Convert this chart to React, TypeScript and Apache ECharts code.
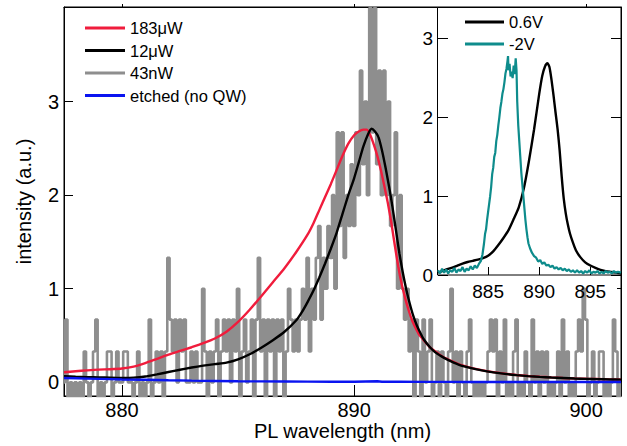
import React, { useEffect, useRef } from 'react';
import * as echarts from 'echarts';

const FONT = "'Liberation Sans', Arial, Helvetica, sans-serif";

// tick labels
const mainXTicks = [880, 890, 900];
const mainYTicks = [0, 1, 2, 3];
const insetXTicks = [885, 890, 895];
const insetYTicks = [0, 1, 2, 3];

// main plot: 183 µW (red)
const pl183uW: [number, number][] = [
  [877.5, 0.107], [878.0, 0.118], [878.5, 0.128], [879.0, 0.136], [879.5, 0.14], [880.0, 0.148],
  [880.5, 0.168], [881.0, 0.205], [881.5, 0.25], [882.0, 0.295], [882.5, 0.335], [883.0, 0.375],
  [883.5, 0.418], [884.0, 0.468], [884.5, 0.54], [885.0, 0.645], [885.5, 0.775], [886.0, 0.92],
  [886.5, 1.07], [887.0, 1.22], [887.5, 1.39], [888.0, 1.58], [888.25, 1.7], [888.5, 1.84],
  [888.75, 1.98], [889.0, 2.12], [889.25, 2.27], [889.5, 2.42], [889.75, 2.55], [890.0, 2.64],
  [890.2, 2.68], [890.4, 2.7], [890.55, 2.7], [890.7, 2.64], [890.85, 2.54], [891.0, 2.42],
  [891.15, 2.27], [891.3, 2.1], [891.45, 1.92], [891.6, 1.71], [891.75, 1.47], [891.9, 1.24],
  [892.05, 1.05], [892.2, 0.9], [892.35, 0.77], [892.5, 0.66], [892.65, 0.58], [892.8, 0.51],
  [893.0, 0.45], [893.25, 0.38], [893.5, 0.33], [893.75, 0.285], [894.0, 0.25], [894.5, 0.195],
  [895.0, 0.158], [895.5, 0.13], [896.0, 0.109], [896.5, 0.092], [897.0, 0.079], [897.5, 0.068],
  [898.0, 0.06], [898.5, 0.053], [899.0, 0.047], [899.5, 0.042], [900.0, 0.038], [900.5, 0.035],
  [901.0, 0.032], [901.5, 0.03],
];

// main plot: 12 µW (black)
const pl12uW: [number, number][] = [
  [877.5, 0.065], [878.0, 0.06], [878.5, 0.056], [879.0, 0.053], [879.5, 0.05], [880.0, 0.048],
  [880.5, 0.05], [881.0, 0.062], [881.5, 0.085], [882.0, 0.11], [882.5, 0.135], [883.0, 0.158],
  [883.5, 0.178], [884.0, 0.195], [884.5, 0.21], [885.0, 0.245], [885.5, 0.3], [886.0, 0.37],
  [886.5, 0.45], [887.0, 0.54], [887.5, 0.66], [887.75, 0.75], [888.0, 0.86], [888.25, 0.98],
  [888.5, 1.12], [888.75, 1.27], [889.0, 1.43], [889.25, 1.6], [889.5, 1.8], [889.75, 2.0],
  [890.0, 2.18], [890.2, 2.35], [890.4, 2.52], [890.6, 2.65], [890.75, 2.71], [890.9, 2.68],
  [891.05, 2.62], [891.2, 2.48], [891.35, 2.3], [891.5, 2.1], [891.65, 1.88], [891.8, 1.63],
  [891.95, 1.38], [892.1, 1.17], [892.25, 0.99], [892.4, 0.84], [892.55, 0.71], [892.7, 0.61],
  [892.85, 0.53], [893.0, 0.46], [893.25, 0.38], [893.5, 0.32], [893.75, 0.28], [894.0, 0.245],
  [894.5, 0.19], [895.0, 0.155], [895.5, 0.128], [896.0, 0.107], [896.5, 0.09], [897.0, 0.077],
  [897.5, 0.066], [898.0, 0.058], [898.5, 0.051], [899.0, 0.046], [899.5, 0.041], [900.0, 0.037],
  [900.5, 0.034], [901.0, 0.031], [901.5, 0.029],
];

// main plot: 43 nW (grey, photon-count limited), sampled every 0.1 nm from 877.5 nm
const pl43nWStart = 877.5;
const pl43nWStep = 0.1;
const pl43nW: number[] = [
  0, 0.67, -0.33, 0, -0.33, 0, -0.33, 0, -0.33, 0.33,
  0, -0.33, 0, 0.33, 0.67, -0.33, 0, -0.33, 0, 0.33,
  0.33, -0.33, 0, 0.33, 0, 0, 0.33, 0.33, 0, 0,
  -0.33, 0, 0.33, -0.33, 0, -0.33, 0, 0.67, -0.33, 0,
  0.33, 0, 0.33, -0.33, 0.33, 1.33, 0.67, 0.33, 0.67, 0,
  0.67, 0.33, 0.67, 0, 0, 0.33, 0, 0.33, 0, 0,
  1, 0.33, -0.33, 0.33, 0, 0.33, 0.67, -0.33, 0.33, 0.67,
  0.33, 0.67, 0, 0.67, 0.33, 1, -0.33, 0.33, 0.67, 0,
  0.33, 0.67, -0.33, 0.67, 1.33, 0.33, 0.67, -0.33, 0.67, 0.33,
  0.67, -0.33, 0.67, 0.33, 0.67, -0.33, 0.33, 1, 0.67, 0.33,
  0.67, 0.33, 0.67, 1, 0.67, 1.33, 0.33, 1, 0.67, 1.33,
  1.67, 0.67, 1.33, 1, 1.67, 1.33, 2, 1, 2.67, 1.67,
  2.67, 1.33, 2, 1.67, 2.33, 1.67, 2.67, 2, 3.33, 2.33,
  3, 2, 4, 2.67, 4, 2.33, 3.33, 2, 3.33, 2,
  3, 1.67, 2, 2.67, 1, 2, 1, 0.67, 1, 0.33,
  0.67, -0.33, 0.67, 0.33, -0.33, 0.67, 0, 0.33, 0.67, -0.33,
  0, 0.33, -0.33, 0.33, 0, -0.33, 0.33, 1, 0, 0.33,
  -0.33, 0.33, 0, -0.33, 0.33, 0.67, 0, -0.33, 0, -0.33,
  0, -0.33, 0, 0.33, 0.67, 0.33, 0.67, -0.33, 0.33, 0,
  0.67, -0.33, 0, -0.33, 0.33, 0.67, -0.33, 0, -0.33, 0.33,
  0, -0.33, 0.67, 0, 0.33, -0.33, 0.33, 0, 0.33, -0.33,
  0, -0.33, 0, 0.33, -0.33, 0.67, 0, 0.33, -0.33, 0,
  -0.33, 0.33, 0.67, 0.33, 1, 0.67, -0.33, 0, 0.33, -0.33,
  0, 0.33, 0.33, -0.33, 0, -0.33, 0, 0.67, 0.33, -0.33,
  0,
];

// main plot: etched (no QW) (blue)
const etchedNoQW: [number, number][] = [
  [877.5, 0.046], [878.0, 0.043], [878.5, 0.04], [879.0, 0.037], [879.5, 0.034], [880.0, 0.031],
  [881.0, 0.027], [882.0, 0.022], [883.0, 0.018], [884.0, 0.015], [885.0, 0.012], [886.0, 0.01],
  [887.0, 0.009], [888.0, 0.008], [889.0, 0.007], [890.0, 0.007], [891.0, 0.011], [891.2, 0.006],
  [892.0, 0.006], [893.0, 0.005], [894.0, 0.005], [895.0, 0.004], [896.0, 0.004], [897.0, 0.004],
  [898.0, 0.003], [899.0, 0.003], [900.0, 0.003], [901.5, 0.003],
];

// inset: 0.6 V (black)
const inset06V: [number, number][] = [
  [880.1, 0.03], [880.5, 0.05], [881.0, 0.075], [881.5, 0.095], [882.0, 0.12], [882.5, 0.145],
  [883.0, 0.165], [883.5, 0.18], [884.0, 0.195], [884.5, 0.215], [885.0, 0.245], [885.5, 0.3],
  [886.0, 0.38], [886.5, 0.47], [887.0, 0.57], [887.5, 0.71], [888.0, 0.86], [888.5, 1.1],
  [889.0, 1.45], [889.5, 1.85], [890.0, 2.3], [890.3, 2.53], [890.6, 2.66], [890.8, 2.69],
  [891.0, 2.64], [891.2, 2.48], [891.4, 2.28], [891.6, 2.06], [891.8, 1.85], [892.0, 1.58],
  [892.2, 1.25], [892.4, 0.97], [892.6, 0.78], [892.8, 0.64], [893.0, 0.53], [893.3, 0.41],
  [893.6, 0.31], [894.0, 0.23], [894.5, 0.16], [895.0, 0.12], [895.5, 0.09], [896.0, 0.065],
  [896.5, 0.05], [897.0, 0.04], [897.5, 0.03], [898.0, 0.02],
];

// inset: -2 V (teal)
const insetM2V: [number, number][] = [
  [880.1, 0.06], [880.3, 0.02], [880.5, 0.08], [880.7, 0.03], [880.9, 0.07], [881.1, 0.02],
  [881.3, 0.06], [881.5, 0.04], [881.7, 0.09], [881.9, 0.03], [882.1, 0.07], [882.3, 0.05],
  [882.5, 0.1], [882.7, 0.04], [882.9, 0.08], [883.1, 0.06], [883.3, 0.11], [883.5, 0.07],
  [883.7, 0.12], [883.9, 0.09], [884.1, 0.14], [884.3, 0.18], [884.45, 0.26], [884.6, 0.4],
  [884.7, 0.52], [884.8, 0.58], [884.9, 0.7], [885.0, 0.8], [885.1, 0.9], [885.2, 1.0],
  [885.3, 1.12], [885.4, 1.28], [885.5, 1.36], [885.6, 1.5], [885.7, 1.55], [885.8, 1.7],
  [885.9, 1.78], [886.0, 1.9], [886.1, 2.0], [886.2, 2.12], [886.3, 2.2], [886.4, 2.3],
  [886.5, 2.36], [886.6, 2.45], [886.7, 2.56], [886.8, 2.62], [886.9, 2.72], [886.95, 2.78],
  [887.0, 2.6], [887.1, 2.68], [887.2, 2.52], [887.3, 2.58], [887.4, 2.5], [887.5, 2.66],
  [887.6, 2.55], [887.7, 2.75], [887.78, 2.6], [887.85, 2.2], [887.95, 1.9], [888.05, 1.7],
  [888.15, 1.5], [888.25, 1.3], [888.35, 1.15], [888.45, 1.0], [888.55, 0.85], [888.65, 0.7],
  [888.75, 0.58], [888.85, 0.48], [888.95, 0.4], [889.1, 0.34], [889.3, 0.28], [889.5, 0.24],
  [889.7, 0.22], [889.9, 0.17], [890.1, 0.19], [890.3, 0.14], [890.5, 0.16], [890.7, 0.12],
  [890.9, 0.13], [891.1, 0.1], [891.3, 0.12], [891.5, 0.08], [891.7, 0.1], [891.9, 0.07],
  [892.1, 0.09], [892.3, 0.06], [892.5, 0.08], [892.7, 0.05], [892.9, 0.07], [893.1, 0.04],
  [893.3, 0.06], [893.5, 0.03], [893.7, 0.06], [893.9, 0.03], [894.1, 0.05], [894.3, 0.02],
  [894.5, 0.05], [894.7, 0.03], [894.9, 0.06], [895.1, 0.02], [895.3, 0.04], [895.5, 0.03],
  [895.7, 0.05], [895.9, 0.02], [896.1, 0.04], [896.3, 0.02], [896.5, 0.05], [896.7, 0.03],
  [896.9, 0.04], [897.1, 0.02], [897.3, 0.05], [897.5, 0.03], [897.7, 0.04], [898.0, 0.03],
];

const RED = '#f01c3c';
const BLACK = '#000000';
const GRAY = '#8e8e8e';
const BLUE = '#0a14f0';
const TEAL = '#0e8c8c';

const txt = (size: number) => ({ fontSize: size, fontFamily: FONT, color: '#000' });

function buildOption() {
  const grayData = pl43nW.map((v, i) => [pl43nWStart + pl43nWStep * i, v]);
  const line = { show: true, onZero: false, lineStyle: { color: '#000', width: 1 } };
  const noSplit = { show: false };
  return {
    animation: false,
    backgroundColor: '#ffffff',
    grid: [
      {
        left: 64, top: 7, right: 6, bottom: 50, show: true, borderColor: '#000', borderWidth: 1,
        backgroundColor: 'transparent', containLabel: false, outerBoundsMode: 'none',
      },
      { left: 438, top: 8, right: 6, bottom: 171, show: false, containLabel: false, outerBoundsMode: 'none' },
    ],
    graphic: {
      elements: [
        {
          type: 'rect',
          z: 3,
          shape: { x: 437.5, y: 7.5, width: 183.5, height: 267.5 },
          style: { fill: '#ffffff', stroke: '#000000', lineWidth: 1 },
        },
      ],
    },
    legend: [
      {
        data: ['183μW', '12μW', '43nW', 'etched (no QW)'],
        orient: 'vertical', left: 85, top: 19.5, padding: 0,
        icon: 'rect', itemWidth: 40, itemHeight: 3, itemGap: 5.5,
        selectedMode: false,
        textStyle: { ...txt(16.5), lineHeight: 16 },
      },
      {
        data: ['0.6V', '-2V'],
        orient: 'vertical', left: 465, top: 13.5, padding: 0, z: 11,
        icon: 'rect', itemWidth: 39, itemHeight: 3, itemGap: 5,
        selectedMode: false,
        textStyle: { ...txt(16.5), lineHeight: 16 },
      },
    ],
    xAxis: [
      {
        gridIndex: 0, type: 'value', min: 877.5, max: 901.5, position: 'bottom',
        axisLine: line, splitLine: noSplit,
        axisTick: { show: true, inside: true, length: 11, customValues: mainXTicks, lineStyle: { color: '#000', width: 1 } },
        axisLabel: { show: true, customValues: mainXTicks, margin: 6, ...txt(20), lineHeight: 16 },
        name: 'PL wavelength (nm)', nameLocation: 'middle', nameGap: 27, nameMoveOverlap: false,
        nameTextStyle: { ...txt(20), lineHeight: 16 },
      },
      {
        gridIndex: 0, type: 'value', min: 877.5, max: 901.5, position: 'top',
        axisLine: line, splitLine: noSplit,
        axisTick: { show: true, inside: false, length: 3, customValues: mainXTicks, lineStyle: { color: '#000', width: 1 } },
        axisLabel: { show: false },
      },
      {
        gridIndex: 1, type: 'value', min: 880.1, max: 898, position: 'bottom', z: 10,
        axisLine: { show: false }, splitLine: noSplit,
        axisTick: { show: true, inside: true, length: 8, customValues: insetXTicks, lineStyle: { color: '#000', width: 1 } },
        axisLabel: { show: true, customValues: insetXTicks, margin: 7, ...txt(19) },
      },
    ],
    yAxis: [
      {
        gridIndex: 0, type: 'value', min: -0.146, max: 4.01, position: 'left',
        axisLine: line, splitLine: noSplit,
        axisTick: { show: true, inside: true, length: 9, customValues: mainYTicks, lineStyle: { color: '#000', width: 1 } },
        axisLabel: { show: true, customValues: mainYTicks, margin: 5, ...txt(20) },
        name: 'intensity (a.u.)', nameLocation: 'middle', nameGap: 30, nameRotate: 90, nameMoveOverlap: false,
        nameTextStyle: txt(20),
      },
      {
        gridIndex: 0, type: 'value', min: -0.146, max: 4.01, position: 'right',
        axisLine: line, splitLine: noSplit,
        axisTick: { show: true, inside: true, length: 4, customValues: mainYTicks, lineStyle: { color: '#000', width: 1 } },
        axisLabel: { show: false },
      },
      {
        gridIndex: 1, type: 'value', min: 0, max: 3.39, position: 'left', z: 10,
        axisLine: { show: false }, splitLine: noSplit,
        axisTick: { show: true, inside: true, length: 10, customValues: insetYTicks, lineStyle: { color: '#000', width: 1 } },
        axisLabel: { show: true, customValues: insetYTicks, margin: 5, ...txt(19) },
      },
      {
        gridIndex: 1, type: 'value', min: 0, max: 3.39, position: 'right', z: 10,
        axisLine: { show: false }, splitLine: noSplit,
        axisTick: { show: true, inside: true, length: 10, customValues: insetYTicks, lineStyle: { color: '#000', width: 1 } },
        axisLabel: { show: false },
      },
    ],
    series: [
      {
        name: '43nW', type: 'line', xAxisIndex: 0, yAxisIndex: 0, data: grayData,
        showSymbol: false, step: 'middle', z: 2,
        lineStyle: { color: GRAY, width: 2.6 }, itemStyle: { color: GRAY },
      },
      {
        name: '183μW', type: 'line', xAxisIndex: 0, yAxisIndex: 0, data: pl183uW,
        showSymbol: false, smooth: 0.2, z: 2,
        lineStyle: { color: RED, width: 2.4 }, itemStyle: { color: RED },
      },
      {
        name: '12μW', type: 'line', xAxisIndex: 0, yAxisIndex: 0, data: pl12uW,
        showSymbol: false, smooth: 0.2, z: 2,
        lineStyle: { color: BLACK, width: 2.4 }, itemStyle: { color: BLACK },
      },
      {
        name: 'etched (no QW)', type: 'line', xAxisIndex: 0, yAxisIndex: 0, data: etchedNoQW,
        showSymbol: false, z: 2,
        lineStyle: { color: BLUE, width: 2.4 }, itemStyle: { color: BLUE },
      },
      {
        name: '0.6V', type: 'line', xAxisIndex: 2, yAxisIndex: 2, data: inset06V,
        showSymbol: false, smooth: 0.2, z: 10,
        lineStyle: { color: BLACK, width: 2.4 }, itemStyle: { color: BLACK },
      },
      {
        name: '-2V', type: 'line', xAxisIndex: 2, yAxisIndex: 2, data: insetM2V,
        showSymbol: false, z: 10,
        lineStyle: { color: TEAL, width: 2.2 }, itemStyle: { color: TEAL },
      },
    ],
  };
}

export default function App() {
  const ref = useRef<HTMLDivElement>(null);
  useEffect(() => {
    document.body.style.margin = '0';
    const chart = echarts.init(ref.current as HTMLDivElement, null, { renderer: 'svg' });
    chart.setOption(buildOption() as any);
    return () => chart.dispose();
  }, []);
  return (
    <div
      ref={ref}
      style={{ position: 'fixed', left: 0, top: 0, width: 627, height: 446, background: '#fff' }}
    />
  );
}
